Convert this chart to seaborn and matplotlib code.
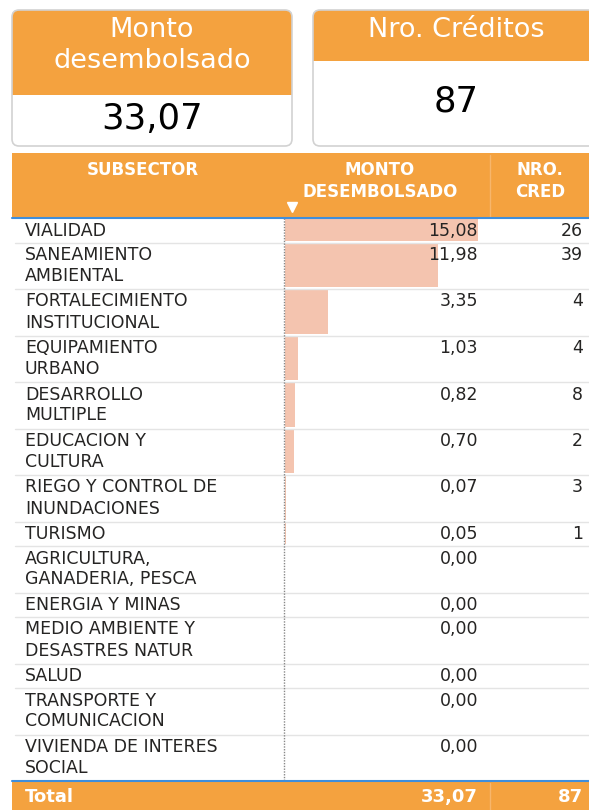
import seaborn as sns
import matplotlib.pyplot as plt
from matplotlib.patches import FancyBboxPatch, Rectangle
import pandas as pd

# data
subsectores = ["VIALIDAD", "SANEAMIENTO\nAMBIENTAL", "FORTALECIMIENTO\nINSTITUCIONAL",
               "EQUIPAMIENTO\nURBANO", "DESARROLLO\nMULTIPLE", "EDUCACION Y\nCULTURA",
               "RIEGO Y CONTROL DE\nINUNDACIONES", "TURISMO", "AGRICULTURA,\nGANADERIA, PESCA",
               "ENERGIA Y MINAS", "MEDIO AMBIENTE Y\nDESASTRES NATUR", "SALUD",
               "TRANSPORTE Y\nCOMUNICACION", "VIVIENDA DE INTERES\nSOCIAL"]
monto = [15.08, 11.98, 3.35, 1.03, 0.82, 0.70, 0.07, 0.05, 0.00, 0.00, 0.00, 0.00, 0.00, 0.00]
nro_cred = [26, 39, 4, 4, 8, 2, 3, 1, None, None, None, None, None, None]
total_monto = "33,07"
total_cred = "87"

ORANGE = "#F4A23F"
BAR = "#F4C4AF"
TXT = "#252423"
BLUE = "#3F8EDB"

sns.set_theme(style="white")
plt.rcParams['font.family'] = ['DejaVu Sans']

fig = plt.figure(figsize=(5.89, 8.10), dpi=100)
ax = fig.add_axes([0, 0, 1, 1])
ax.set_xlim(0, 589)
ax.set_ylim(810, 0)
ax.axis("off")

# KPI cards
def card(x0, x1, y0, y1, head_bottom, title, value, value_y, title_ys, cx):
    box = FancyBboxPatch((x0, y0), x1 - x0, y1 - y0, boxstyle="round,pad=0,rounding_size=7",
                         facecolor="white", edgecolor="none")
    ax.add_patch(box)
    head = Rectangle((x0, y0), x1 - x0, head_bottom - y0, facecolor=ORANGE, edgecolor="none")
    ax.add_patch(head)
    head.set_clip_path(box)
    ax.add_patch(FancyBboxPatch((x0, y0), x1 - x0, y1 - y0, boxstyle="round,pad=0,rounding_size=7",
                                facecolor="none", edgecolor="#D2D2D2", linewidth=1.2))
    for t, ty in zip(title.split("\n"), title_ys):
        ax.text(cx, ty, t, color="white", fontsize=19.5, ha="center", va="center")
    ax.text(cx, value_y, value, color="black", fontsize=25.5, ha="center", va="center")

card(12, 292, 10, 146, 95, "Monto\ndesembolsado", total_monto, 119, [30, 61], 152)
card(313, 610, 10, 146, 61, "Nro. Créditos", total_cred, 102, [30], 456)

# table header
ax.add_patch(Rectangle((12, 153), 577, 65, facecolor=ORANGE, edgecolor="none"))
ax.plot([490, 490], [155, 217], color="#F7B66C", lw=1)
hdr = dict(color="white", fontsize=12, fontweight="bold", ha="center", va="center")
ax.text(143, 170, "SUBSECTOR", **hdr)
ax.text(380, 170, "MONTO", **hdr)
ax.text(380, 192, "DESEMBOLSADO", **hdr)
ax.text(540, 170, "NRO.", **hdr)
ax.text(540, 192, "CRED", **hdr)
ax.plot([292], [207], marker="v", color="white", markersize=7)

# row layout from number of text lines
line_h, pad = 22, 2.5
lines = [s.count("\n") + 1 for s in subsectores]
tops = []
y = 218
for n in lines:
    tops.append(y)
    y += n * line_h + pad
bottom = y

for i, (lab, top, n) in enumerate(zip(subsectores, tops, lines)):
    for k, part in enumerate(lab.split("\n")):
        ax.text(25, top + 12.5 + k * 21, part, color=TXT, fontsize=12.5, ha="left", va="center")
    ax.text(478, top + 12.5, f"{monto[i]:.2f}".replace(".", ","), color=TXT, fontsize=12.5,
            ha="right", va="center")
    if nro_cred[i] is not None:
        ax.text(583, top + 12.5, str(nro_cred[i]), color=TXT, fontsize=12.5, ha="right", va="center")
    if i > 0:
        ax.plot([15, 589], [top, top], color="#E4E4E4", lw=1, zorder=0)

# bar column
ax_bar = fig.add_axes([285 / 589, 1 - bottom / 810, (478 - 285) / 589, (bottom - 218) / 810])
df = pd.DataFrame({"Subsector": subsectores, "Monto": monto})
sns.barplot(data=df, x="Monto", y="Subsector", orient="h", color=BAR, saturation=1,
            ax=ax_bar, zorder=0)
for p, top, n in zip(ax_bar.patches, tops, lines):
    p.set_y(top + 1)
    p.set_height(n * line_h + pad - 3)
    p.set_edgecolor("none")
ax_bar.set_xlim(0, max(monto))
ax_bar.set_ylim(bottom, 218)
ax_bar.axis("off")
ax_bar.patch.set_alpha(0)
ax.set_zorder(1)
ax.patch.set_alpha(0)

ax.plot([284, 284], [218, bottom], color="#888888", lw=1, ls=(0, (1, 1)))

# lines around body
ax.plot([12, 589], [218, 218], color=BLUE, lw=1.5)
ax.plot([12, 589], [bottom, bottom], color=BLUE, lw=1.5)

# total row
ax.add_patch(Rectangle((12, bottom + 1), 577, 810 - bottom, facecolor=ORANGE, edgecolor="none"))
ax.plot([490, 490], [bottom + 2, 810], color="#F7B66C", lw=1)
ax.text(25, 797, "Total", color="white", fontsize=13, fontweight="bold", ha="left", va="center")
ax.text(478, 797, total_monto, color="white", fontsize=13, fontweight="bold", ha="right", va="center")
ax.text(583, 797, total_cred, color="white", fontsize=13, fontweight="bold", ha="right", va="center")

fig.savefig("out.png", dpi=100)
